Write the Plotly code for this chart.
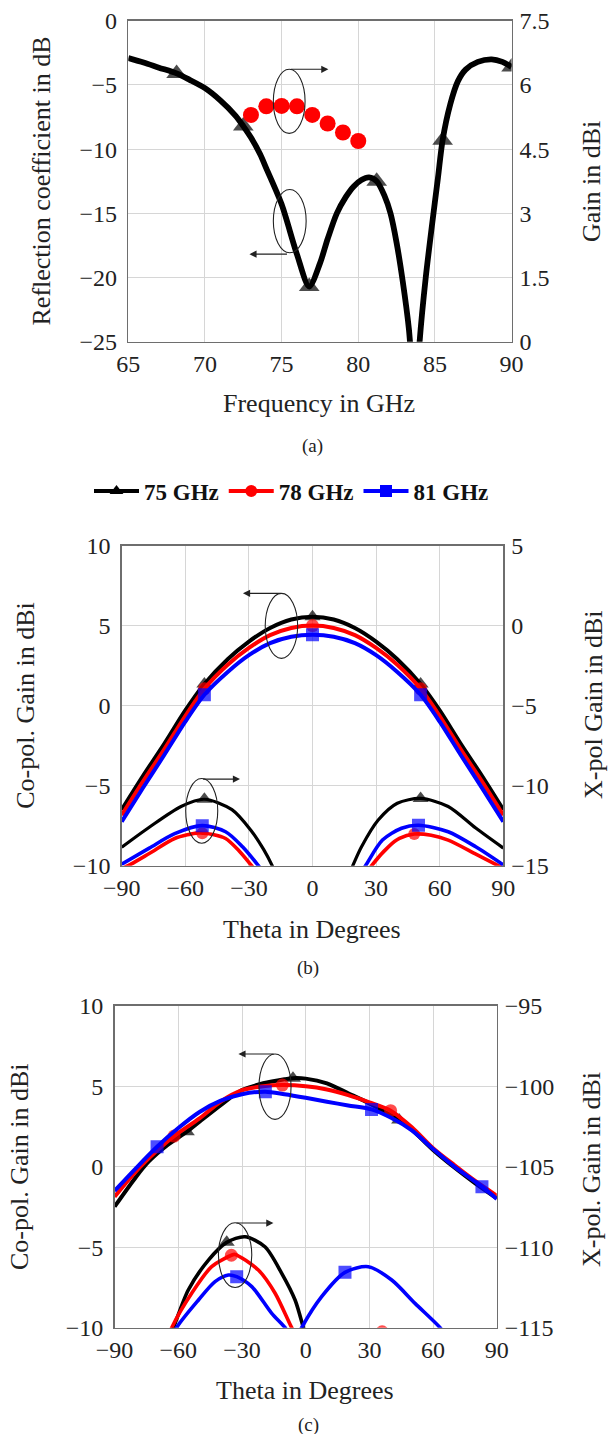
import plotly.graph_objects as go

# ---------------- (a) reflection coefficient & gain ----------------
a_freq = [65, 66, 67, 68.15, 69, 70, 71, 72, 72.5, 73, 73.6, 74, 75, 76, 76.8, 77.5, 78, 78.6,
          79.2, 79.7, 80.2, 80.7, 81.2, 81.7, 82.1, 82.5, 82.9, 83.3, 83.5, 83.7, 83.9, 84.0,
          84.4, 84.8, 85.2, 85.5, 86.0, 86.5, 87.0, 87.8, 88.7, 89.4, 90]
a_s11 = [-2.9, -3.25, -3.65, -4.1, -4.6, -5.25, -6.2, -7.4, -8.2, -9.1, -10.4, -11.5, -14.3, -18.2,
         -20.7, -18.9, -17.0, -15.0, -13.7, -12.9, -12.4, -12.2, -12.5, -13.6, -15.0, -17.3, -20.3,
         -24.0, -27.0, -29.0, -27.0, -25.0, -20.0, -16.0, -12.2, -9.3, -6.5, -4.7, -3.8, -3.2,
         -3.0, -3.2, -3.6]
a_s11_marks = [68.15, 72.5, 76.8, 81.2, 85.5, 90]

a_gain_freq = [73, 74, 75, 76, 77, 78, 79, 80]
a_gain = [5.3, 5.5, 5.51, 5.5, 5.3, 5.1, 4.89, 4.69]

# ---------------- (b) ----------------
b_theta = [-90, -80, -70, -60, -51, -40, -30, -20, -10, 0, 10, 20, 30, 40, 51, 60, 70, 80, 90]
b_co_75 = [-6.5, -4.4, -2.4, -0.3, 1.35, 2.9, 4.0, 4.85, 5.38, 5.55, 5.38, 4.85, 4.0, 2.9, 1.35, -0.3, -2.4, -4.4, -6.5]
b_co_78 = [-6.85, -4.75, -2.75, -0.65, 1.05, 2.55, 3.6, 4.4, 4.85, 5.0, 4.85, 4.4, 3.6, 2.55, 1.05, -0.65, -2.75, -4.75, -6.85]
b_co_81 = [-7.25, -5.15, -3.1, -1.0, 0.68, 2.1, 3.15, 3.9, 4.3, 4.42, 4.3, 3.9, 3.15, 2.1, 0.68, -1.0, -3.1, -5.15, -7.25]
b_co_marks = [-51, 0, 51]

b_x75_theta = [-90, -77, -62, -51, -38, -29, -23, -19, -16, None, 16, 19, 23, 31, 40, 51, 64, 77, 90]
b_x75 = [-13.85, -12.6, -11.3, -10.85, -11.5, -12.8, -14.0, -15.0, -15.9, None,
         -15.9, -15.0, -13.85, -12.15, -11.1, -10.8, -11.3, -12.65, -13.9]
b_x75_marks = [-51, 51]
b_x78_theta = [-92, -87, -77, -65, -54, -52, -47, -41, -35, -28.7, -25, None,
               25, 27.9, 35.8, 41, 48, 56, 64, 76.6, 87.6, 92]
b_x78 = [-15.3, -15.0, -14.24, -13.3, -12.95, -12.97, -13.05, -13.3, -14.02, -15.0, -15.6, None,
         -15.6, -15.0, -13.82, -13.3, -13.02, -13.1, -13.4, -14.24, -15.0, -15.3]
b_x78_marks = [-52, 48]
b_x81_theta = [-90, -77, -65, -52, -41, -33, -25.5, -22, None, 22, 25, 33, 42, 50, 64, 77, 90]
b_x81 = [-14.9, -13.9, -13.0, -12.5, -12.88, -13.82, -15.0, -15.6, None,
         -15.6, -15.0, -13.4, -12.66, -12.47, -12.88, -13.82, -14.95]
b_x81_marks = [-52, 50]

# ---------------- (c) ----------------
c_th_75 = [-90, -80, -74, -65, -56, -50, -40, -30, -20, -10, -6, 0, 10, 20, 30, 40, 44, 50, 60, 70, 80, 90]
c_co_75 = [-2.48, -0.65, 0.31, 1.35, 2.17, 2.8, 3.83, 4.76, 5.18, 5.43, 5.5, 5.47, 5.18, 4.56, 3.93, 3.21, 2.9,
           2.3, 1.04, -0.05, -1.05, -1.96]
c_co_75_marks = [-56, -6, 44]
c_th_78 = [-90, -80, -70, -62, -50, -40, -30, -20, -11, 0, 10, 20, 30, 40, 50, 60, 70, 80, 90]
c_co_78 = [-1.86, -0.3, 1.0, 1.9, 3.0, 4.05, 4.75, 5.0, 5.07, 5.0, 4.8, 4.45, 4.0, 3.48, 2.45, 1.15, 0.1, -0.9, -1.8]
c_co_78_marks = [-62, -11, 40]
c_th_81 = [-90, -80, -70, -60, -50, -40, -30, -19, -10, 0, 10, 20, 31, 40, 50, 60, 70, 83, 90]
c_co_81 = [-1.5, -0.1, 1.24, 2.4, 3.4, 4.1, 4.5, 4.66, 4.5, 4.28, 4.04, 3.8, 3.56, 3.05, 2.25, 1.1, 0.0, -1.24, -2.0]
c_co_81_marks = [-70, -19, 31, 83]

c_x75_theta = [-66, -62.3, -55.3, -45.8, -37.2, -28.6, -19.2, -11.3, -5, -1.1, 1]
c_x75 = [-116.2, -115, -112.66, -110.8, -109.7, -109.35, -109.97, -111.62, -113.28, -115, -116]
c_x75_marks = [-37.2]
c_x78_theta = [-66, -63.1, -53.7, -44.3, -35, -33.3, -22.3, -14.4, -6.6, -4, None, 28, 36, 44]
c_x78 = [-116, -115, -112.86, -111.21, -110.5, -110.45, -111.42, -112.86, -115, -115.6, None, -116, -115.25, -116]
c_x78_marks = [-35, 36]
c_x81_theta = [-64, -60.8, -50.5, -42.7, -36.4, -32.5, -25.4, -16, -9.7, -7, None,
               -4, -1.9, 7.5, 18.5, 29.5, 40.5, 51.5, 63.3, 66]
c_x81 = [-116, -115, -113.28, -112.14, -111.73, -111.83, -112.45, -114.11, -115, -115.6, None,
         -115.6, -115, -113.07, -111.56, -111.21, -112.04, -113.49, -115, -115.5]
c_x81_marks = [-32.5, 18.5]

# ---------------- layout constants ----------------
W, H = 608, 1434
FONT = "Liberation Serif, Times New Roman, serif"
BLACK, RED, BLUE = "#000000", "#ff0000", "#0000ff"


def px(x):
    return x / W


def py(y):
    return 1 - y / H


def sizes(xs, marks, s):
    return [s if (x is not None and x in marks) else 0 for x in xs]


fig = go.Figure()


def add_line(x, y, marks, color, symbol, msize, lw, xa, ya):
    fig.add_trace(go.Scatter(
        x=x, y=y, mode="lines+markers", xaxis=xa, yaxis=ya,
        line=dict(color=color, width=lw, shape="spline", smoothing=0.8),
        marker=dict(symbol=symbol, color=color, size=sizes(x, marks, msize), line=dict(width=0)),
        connectgaps=False, showlegend=False, hoverinfo="skip"))


# (a)
add_line(a_freq, a_s11, a_s11_marks, BLACK, "triangle-up", 18, 5.8, "x", "y")
fig.add_trace(go.Scatter(x=a_gain_freq, y=a_gain, mode="markers", xaxis="x", yaxis="y2",
                         marker=dict(symbol="circle", color=RED, size=16, line=dict(width=0)),
                         showlegend=False, hoverinfo="skip"))

# (b)
add_line(b_theta, b_co_75, b_co_marks, BLACK, "triangle-up", 14, 4, "x2", "y3")
add_line(b_theta, b_co_78, b_co_marks, RED, "circle", 13, 4, "x2", "y3")
add_line(b_theta, b_co_81, b_co_marks, BLUE, "square", 13, 4, "x2", "y3")
add_line(b_x75_theta, b_x75, b_x75_marks, BLACK, "triangle-up", 14, 3.2, "x2", "y4")
add_line(b_x78_theta, b_x78, b_x78_marks, RED, "circle", 12, 3.6, "x2", "y4")
add_line(b_x81_theta, b_x81, b_x81_marks, BLUE, "square", 13, 3.6, "x2", "y4")

# (c)
add_line(c_th_75, c_co_75, c_co_75_marks, BLACK, "triangle-up", 14, 4, "x3", "y5")
add_line(c_th_78, c_co_78, c_co_78_marks, RED, "circle", 13, 4, "x3", "y5")
add_line(c_th_81, c_co_81, c_co_81_marks, BLUE, "square", 13, 4, "x3", "y5")
add_line(c_x75_theta, c_x75, c_x75_marks, BLACK, "triangle-up", 14, 3.6, "x3", "y6")
add_line(c_x78_theta, c_x78, c_x78_marks, RED, "circle", 13, 3.6, "x3", "y6")
add_line(c_x81_theta, c_x81, c_x81_marks, BLUE, "square", 13, 3.6, "x3", "y6")

# legend entries
for nm, col, sym in [("75 GHz", BLACK, "triangle-up"), ("78 GHz", RED, "circle"), ("81 GHz", BLUE, "square")]:
    fig.add_trace(go.Scatter(x=[None], y=[None], mode="lines+markers", xaxis="x2", yaxis="y3",
                             line=dict(color=col, width=4), marker=dict(symbol=sym, color=col, size=12),
                             name=nm, showlegend=True))

tickfont = dict(family=FONT, size=24, color="#222")
GRID = "#d6d6d6"
FRAME = "#6e6e6e"


def xax(dom, rng, vals, anchor):
    return dict(domain=dom, range=rng, tickvals=vals, anchor=anchor, showgrid=True, gridcolor=GRID,
                gridwidth=1, zeroline=False, showline=True, linecolor=FRAME, linewidth=1.5, mirror=True,
                ticks="", ticklen=0, tickfont=tickfont, ticklabelstandoff=0, automargin=False,
                fixedrange=True)


def yax(dom, rng, vals, anchor):
    return dict(domain=dom, range=rng, tickvals=vals, anchor=anchor, showgrid=True, gridcolor=GRID,
                gridwidth=1, zeroline=False, showline=True, linecolor=FRAME, linewidth=1.5, mirror=True,
                ticks="", ticklen=0, tickfont=tickfont, ticklabelstandoff=5, automargin=False,
                fixedrange=True)


def yax_r(rng, vals, overlay, anchor, texts=None):
    d = dict(range=rng, tickvals=vals, overlaying=overlay, side="right", anchor=anchor, showgrid=False,
             zeroline=False, showline=False, ticks="", ticklen=0, tickfont=tickfont,
             ticklabelstandoff=7, automargin=False, fixedrange=True)
    if texts:
        d["ticktext"] = texts
    return d


a_dom_x = [px(128.3), px(511.6)]
a_dom_y = [py(341.7), py(20.8)]
b_dom_x = [px(121.7), px(503.3)]
b_dom_y = [py(865.7), py(545.5)]
c_dom_x = [px(114.6), px(496.8)]
c_dom_y = [py(1327.7), py(1005.7)]

fig.update_layout(
    width=W, height=H, template="none",
    margin=dict(l=0, r=0, t=0, b=0, pad=0, autoexpand=False),
    paper_bgcolor="white", plot_bgcolor="white",
    font=dict(family=FONT, color="#222"),
    xaxis=xax(a_dom_x, [65, 90], [65, 70, 75, 80, 85, 90], "y"),
    yaxis=yax(a_dom_y, [-25, 0], [-25, -20, -15, -10, -5, 0], "x"),
    yaxis2=yax_r([0, 7.5], [0, 1.5, 3, 4.5, 6, 7.5], "y", "x", ["0", "1.5", "3", "4.5", "6", "7.5"]),
    xaxis2=xax(b_dom_x, [-90, 90], [-90, -60, -30, 0, 30, 60, 90], "y3"),
    yaxis3=yax(b_dom_y, [-10, 10], [-10, -5, 0, 5, 10], "x2"),
    yaxis4=yax_r([-15, 5], [-15, -10, -5, 0, 5], "y3", "x2"),
    xaxis3=xax(c_dom_x, [-90, 90], [-90, -60, -30, 0, 30, 60, 90], "y5"),
    yaxis5=yax(c_dom_y, [-10, 10], [-10, -5, 0, 5, 10], "x3"),
    yaxis6=yax_r([-115, -95], [-115, -110, -105, -100, -95], "y5", "x3"),
    legend=dict(orientation="h", x=px(89), xanchor="left", y=py(491), yanchor="middle",
                font=dict(family=FONT, size=23, color="#111", weight="bold"),
                bgcolor="rgba(0,0,0,0)", itemwidth=45, traceorder="normal", tracegroupgap=0),
    showlegend=True,
)


def text_ann(t, x, y, size=26, angle=0):
    fig.add_annotation(text=t, x=px(x), y=py(y), xref="paper", yref="paper", showarrow=False,
                       textangle=angle, font=dict(family=FONT, size=size, color="#222"),
                       xanchor="center", yanchor="middle")


text_ann("Reflection coefficient in dB", 41, 181.5, angle=-90)
text_ann("Gain in dBi", 591, 182, angle=-90)
text_ann("Frequency in GHz", 319, 404)
text_ann("(a)", 312, 446, size=19)
text_ann("Co-pol. Gain in dBi", 26, 705.8, angle=-90)
text_ann("X-pol Gain in dBi", 593, 705, angle=-90)
text_ann("Theta in Degrees", 312, 929)
text_ann("(b)", 308, 968.3, size=19)
text_ann("Co-pol. Gain in dBi", 19, 1167, angle=-90)
text_ann("X-pol. Gain in dBi", 591, 1170, angle=-90)
text_ann("Theta in Degrees", 305, 1390)
text_ann("(c)", 308, 1425, size=19)

# ellipses and arrows (annotation callouts)
callouts = [
    ("x", "y", 74.46, 76.53, -8.77, -3.78, 75.5, -3.78, 78.05),
    ("x", "y", 74.46, 76.6, -18.07, -13.14, 75.45, -18.18, 72.9),
    ("x2", "y3", -22.3, -7.0, 2.95, 7.01, -14.3, 7.01, -32.8),
    ("x2", "y3", -59.8, -44.7, -8.6, -4.55, -52.3, -4.59, -34.2),
    ("x3", "y5", -22.0, -6.9, 2.94, 7.0, -14.4, 7.0, -31.7),
    ("x3", "y5", -41.1, -25.4, -7.5, -3.48, -33.3, -3.5, -15.2),
]
for xr, yr, x0, x1, y0, y1, tx, ty, hx in callouts:
    fig.add_shape(type="circle", xref=xr, yref=yr, x0=x0, x1=x1, y0=y0, y1=y1,
                  line=dict(color="#222", width=1.1), layer="above")
    fig.add_annotation(x=hx, y=ty, ax=tx, ay=ty, xref=xr, yref=yr, axref=xr, ayref=yr, text="",
                       showarrow=True, arrowhead=2, arrowsize=1.3, arrowwidth=1.1, arrowcolor="#222")

fig.write_html("out.html", config={"displayModeBar": False, "staticPlot": True},
               post_script="document.body.style.margin='0';document.body.style.overflow='hidden';")
